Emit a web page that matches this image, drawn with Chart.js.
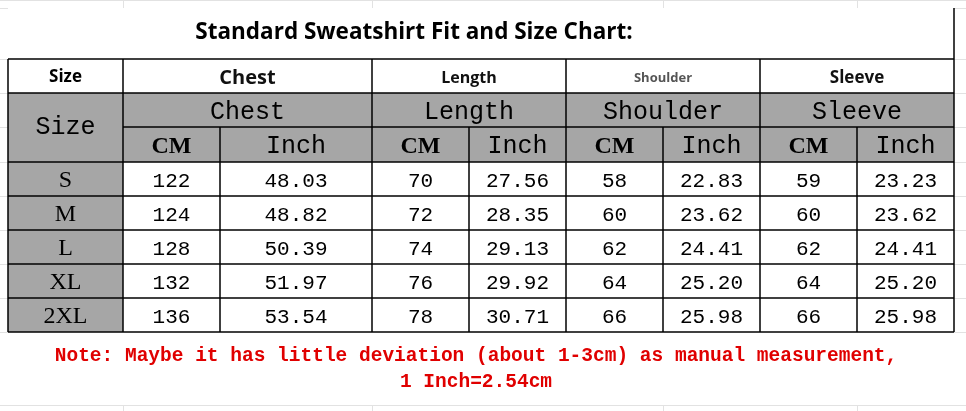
<!DOCTYPE html>
<html>
<head>
<meta charset="utf-8">
<script src="https://cdn.jsdelivr.net/npm/chart.js@4"></script>
<style>
  html, body { margin: 0; padding: 0; background: #fff; }
  #wrap { width: 966px; height: 411px; }
</style>
</head>
<body>
<div id="wrap"><canvas id="sizeChart" width="966" height="411"></canvas></div>
<script>
const title = 'Standard Sweatshirt Fit and Size Chart:';
const groups = ['Chest', 'Length', 'Shoulder', 'Sleeve'];
const units = ['CM', 'Inch'];
const sizes = ['S', 'M', 'L', 'XL', '2XL'];
const chestCm = ['122', '124', '128', '132', '136'];
const chestIn = ['48.03', '48.82', '50.39', '51.97', '53.54'];
const lengthCm = ['70', '72', '74', '76', '78'];
const lengthIn = ['27.56', '28.35', '29.13', '29.92', '30.71'];
const shoulderCm = ['58', '60', '62', '64', '66'];
const shoulderIn = ['22.83', '23.62', '24.41', '25.20', '25.98'];
const sleeveCm = ['59', '60', '62', '64', '66'];
const sleeveIn = ['23.23', '23.62', '24.41', '25.20', '25.98'];
const noteLines = ['Note: Maybe it has little deviation (about 1-3cm) as manual measurement,', '1 Inch=2.54cm'];

// table geometry in scale units
const colX = [8, 123, 220, 372, 469, 566, 663, 760, 857, 954];
const rowY = [8, 59, 93, 127, 162, 196, 230, 264, 298, 332, 405];

const tablePlugin = {
    id: 'tablePlugin',
    afterDraw(chart) {
        const ctx = chart.ctx;
        const xs = chart.scales.x, ys = chart.scales.y;
        const X = v => xs.getPixelForValue(v);
        const Y = v => ys.getPixelForValue(v);
        const cols = [chestCm, chestIn, lengthCm, lengthIn, shoulderCm, shoulderIn, sleeveCm, sleeveIn];

        ctx.save();
        // faint spreadsheet grid behind
        ctx.strokeStyle = '#e2e2e2';
        ctx.lineWidth = 1;
        [123, 372, 663, 857].forEach(x => {
            ctx.beginPath(); ctx.moveTo(X(x) + 0.5, Y(0)); ctx.lineTo(X(x) + 0.5, Y(411)); ctx.stroke();
        });
        rowY.concat([0, 411]).forEach(y => {
            ctx.beginPath(); ctx.moveTo(X(0), Y(y) + 0.5); ctx.lineTo(X(966), Y(y) + 0.5); ctx.stroke();
        });
        ctx.fillStyle = '#fff';
        ctx.fillRect(X(8), Y(8), X(954) - X(8), Y(405) - Y(8));

        // gray header band and size column
        ctx.fillStyle = '#a6a6a6';
        ctx.fillRect(X(8), Y(93), X(954) - X(8), Y(162) - Y(93));
        ctx.fillRect(X(8), Y(162), X(123) - X(8), Y(332) - Y(162));

        // borders
        ctx.strokeStyle = '#000';
        ctx.lineWidth = 1.5;
        const line = (x1, y1, x2, y2) => { ctx.beginPath(); ctx.moveTo(X(x1), Y(y1)); ctx.lineTo(X(x2), Y(y2)); ctx.stroke(); };
        for (let r = 1; r <= 9; r++) {
            if (r === 3) line(123, rowY[r], 954, rowY[r]);
            else line(8, rowY[r], 954, rowY[r]);
        }
        line(954, 8, 954, 332);
        line(8, 59, 8, 332);
        [123, 372, 566, 760].forEach(x => line(x, 59, x, 332));
        [220, 469, 663, 857].forEach(x => line(x, 127, x, 332));

        ctx.textAlign = 'center';
        ctx.textBaseline = 'middle';
        const cx = (a, b) => (X(a) + X(b)) / 2;
        const cy = (a, b) => (Y(a) + Y(b)) / 2;

        // title
        ctx.fillStyle = '#000';
        ctx.font = 'bold 22.5px "Open Sans", sans-serif';
        ctx.fillText(title, cx(8, 820), cy(8, 59) - 1);

        // first header row
        ctx.font = 'bold 17px "Open Sans", sans-serif';
        ctx.fillText('Size', cx(8, 123), cy(59, 93) + 1);
        const gx = [[123, 372], [372, 566], [566, 760], [760, 954]];
        const gFont = ['bold 20px "Open Sans", sans-serif', 'bold 16px "Open Sans", sans-serif', 'bold 13px "Open Sans", sans-serif', 'bold 17px "Open Sans", sans-serif'];
        groups.forEach((g, i) => {
            ctx.font = gFont[i];
            ctx.fillStyle = i === 2 ? '#555' : '#111';
            ctx.fillText(g, cx(gx[i][0], gx[i][1]), cy(59, 93) + 2);
        });

        // gray header rows
        ctx.fillStyle = '#000';
        ctx.font = '25px "Liberation Mono", monospace';
        ctx.fillText('Size', cx(8, 123), cy(93, 162));
        groups.forEach((g, i) => ctx.fillText(g, cx(gx[i][0], gx[i][1]), cy(93, 127) + 2));
        for (let c = 0; c < 8; c++) {
            ctx.font = c % 2 === 0 ? 'bold 24px "Liberation Serif", serif' : '25px "Liberation Mono", monospace';
            ctx.fillText(units[c % 2], cx(colX[c + 1], colX[c + 2]), cy(127, 162) + 2);
        }

        // data rows
        sizes.forEach((s, r) => {
            const y = cy(rowY[r + 4], rowY[r + 5]) + 2;
            ctx.font = '24px "Liberation Serif", serif';
            ctx.fillText(s, cx(8, 123), y);
            ctx.font = '21px "Liberation Mono", monospace';
            cols.forEach((col, c) => ctx.fillText(col[r], cx(colX[c + 1], colX[c + 2]), y));
        });

        // note
        ctx.fillStyle = '#e00000';
        ctx.font = 'bold 19.5px "Liberation Mono", monospace';
        ctx.fillText(noteLines[0], cx(8, 954) - 5, Y(356));
        ctx.fillText(noteLines[1], cx(8, 954) - 5, Y(382));
        ctx.restore();
    }
};

new Chart(document.getElementById('sizeChart'), {
    type: 'scatter',
    data: { datasets: [{ data: [], showLine: false }] },
    options: {
        responsive: false,
        animation: false,
        layout: { padding: 0 },
        plugins: { legend: { display: false }, tooltip: { enabled: false } },
        scales: {
            x: { type: 'linear', min: 0, max: 966, display: false },
            y: { type: 'linear', min: 0, max: 411, reverse: true, display: false }
        }
    },
    plugins: [tablePlugin]
});
</script>
</body>
</html>
